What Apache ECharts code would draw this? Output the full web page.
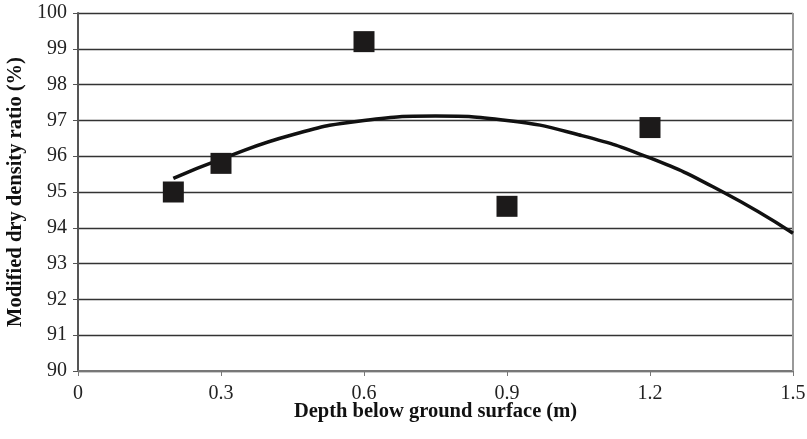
<!DOCTYPE html>
<html>
<head>
<meta charset="utf-8">
<script src="https://cdn.jsdelivr.net/npm/echarts@6/dist/echarts.min.js"></script>
<style>
html, body { margin: 0; padding: 0; background: #fff; }
#main { width: 807px; height: 439px; }
</style>
</head>
<body>
<div id="main"></div>
<script>
// measured points (depth m, modified dry density ratio %)
var depth = [0.2, 0.3, 0.6, 0.9, 1.2];
var ratio = [95.0, 95.8, 99.2, 94.6, 96.8];

// trend line
var trendX = [0.2, 0.3, 0.45, 0.6, 0.75, 0.9, 1.05, 1.2, 1.35, 1.5];
var trendY = [95.38, 95.92, 96.6, 97.0, 97.12, 97.0, 96.6, 95.95, 95.02, 93.85];

var xTicks = [0, 0.3, 0.6, 0.9, 1.2, 1.5];

var chart = echarts.init(document.getElementById('main'));

var pts = depth.map(function(d, i) { return [d, ratio[i]]; });
var trend = trendX.map(function(d, i) { return [d, trendY[i]]; });

var serif = '"Liberation Serif", "DejaVu Serif", serif';

chart.setOption({
	animation: false,
	grid: { left: 78, right: 14, top: 13, bottom: 68, outerBoundsMode: 'none', containLabel: false },
	xAxis: {
		type: 'value',
		min: 0,
		max: 1.5,
		interval: 0.3,
		name: 'Depth below ground surface (m)',
		nameLocation: 'middle',
		nameGap: 30,
		nameMoveOverlap: false,
		nameTextStyle: { fontFamily: serif, fontWeight: 'bold', fontSize: 20.5, color: '#111' },
		axisLine: { lineStyle: { color: '#777', width: 2 } },
		axisTick: { show: true, length: 5, lineStyle: { color: '#777' } },
		axisLabel: {
			fontFamily: serif, fontSize: 20, color: '#222', margin: 13,
			formatter: function(v) { return xTicks.indexOf(+v.toFixed(1)) >= 0 ? String(+v.toFixed(1)) : ''; }
		},
		splitLine: { show: false }
	},
	yAxis: {
		type: 'value',
		min: 90,
		max: 100,
		interval: 1,
		name: 'Modified dry density ratio (%)',
		nameLocation: 'middle',
		nameGap: 51,
		nameTextStyle: { fontFamily: serif, fontWeight: 'bold', fontSize: 20.5, color: '#111' },
		axisLine: { show: true, lineStyle: { color: '#555', width: 2 } },
		axisTick: { show: true, length: 5, lineStyle: { color: '#555' } },
		axisLabel: { fontFamily: serif, fontSize: 20, color: '#222', margin: 11 },
		splitLine: { show: true, lineStyle: { color: '#333', width: 1.3 } }
	},
	series: [
		{
			name: 'Trend',
			type: 'line',
			data: trend,
			smooth: true,
			symbol: 'none',
			lineStyle: { color: '#111', width: 3.5 },
			z: 3
		},
		{
			name: 'Measured',
			type: 'scatter',
			data: pts,
			symbol: 'rect',
			symbolSize: 21,
			itemStyle: { color: '#1c1a1a', opacity: 1 },
			z: 4
		},
		{
			// right border of the plot
			type: 'line',
			data: [[1.5, 90], [1.5, 100]],
			symbol: 'none',
			silent: true,
			lineStyle: { color: '#999', width: 2 },
			z: 2
		}
	]
});

window.onresize = function() {
	chart.resize();
};
</script>
</body>
</html>
